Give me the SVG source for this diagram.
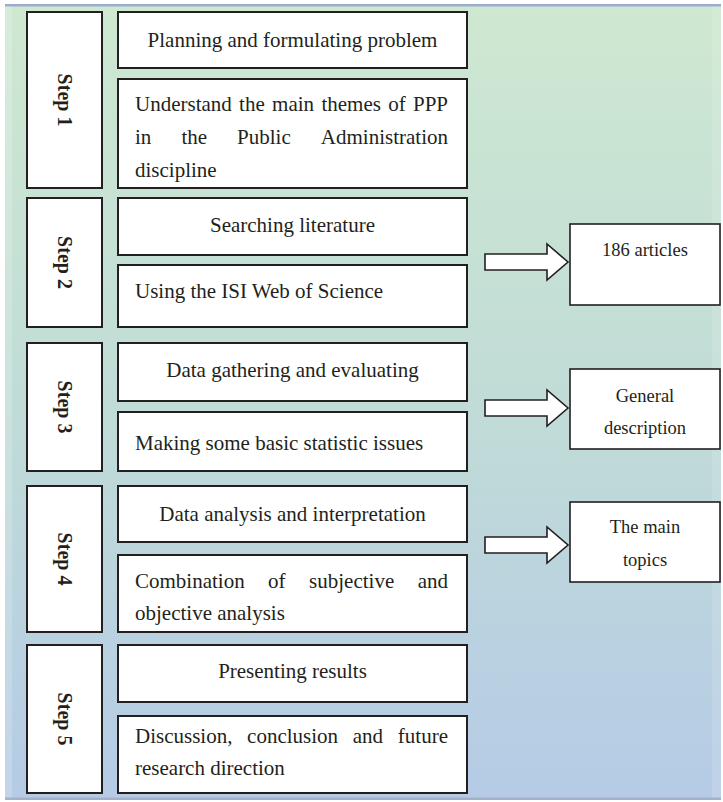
<svg xmlns="http://www.w3.org/2000/svg" width="723" height="802" viewBox="0 0 723 802">
  <defs>
    <linearGradient id="bg" x1="0" y1="0" x2="0" y2="1">
      <stop offset="0" stop-color="#cee8d1"/>
      <stop offset="0.5" stop-color="#c1dcd7"/>
      <stop offset="1" stop-color="#b5cbe6"/>
    </linearGradient>
    <style>
      .box { fill: #ffffff; stroke: #231f20; stroke-width: 2; }
      .rbox { fill: #ffffff; stroke: #231f20; stroke-width: 1.6; }
      .arrow { fill: #ffffff; stroke: #231f20; stroke-width: 1.6; stroke-linejoin: miter; }
      .t { font-family: "Liberation Serif", "Times New Roman", serif; font-size: 21px; fill: #231f20; }
      .c { text-anchor: middle; }
      .e { text-anchor: end; }
      .r { font-family: "Liberation Serif", "Times New Roman", serif; font-size: 18.5px; fill: #231f20; text-anchor: middle; }
      .step { font-family: "Liberation Serif", "Times New Roman", serif; font-size: 20px; font-weight: bold; fill: #231f20; text-anchor: middle; }
    </style>
  </defs>

  <!-- page background and frame -->
  <rect x="0" y="0" width="723" height="802" fill="#ffffff"/>
  <rect x="5" y="4" width="716" height="796" fill="url(#bg)"/>
  <rect x="5" y="6" width="7" height="792" fill="#ffffff" opacity="0.18"/>
  <rect x="712" y="6" width="9" height="792" fill="#ffffff" opacity="0.12"/>
  <rect x="5" y="4" width="716" height="2.5" fill="#9cadcf"/>
  <rect x="5" y="797.5" width="716" height="2.5" fill="#a3b1c9"/>

  <!-- Step 1 -->
  <g id="step1">
    <rect class="box" x="27" y="12" width="75" height="176"/>
    <text class="step" transform="translate(64.5,100) rotate(90)" y="7">Step 1</text>
  </g>
  <g id="planning">
    <rect class="box" x="118" y="12" width="349" height="56"/>
    <text class="t c" x="292.5" y="47">Planning and formulating problem</text>
  </g>
  <g id="understand">
    <rect class="box" x="118" y="79" width="349" height="109"/>
    <text class="t" y="111"><tspan x="135">Understand</tspan><tspan x="239.1">the</tspan><tspan x="272.1">main</tspan><tspan x="321.4">themes</tspan><tspan x="388.2">of</tspan><tspan x="413">PPP</tspan></text>
    <text class="t" y="144"><tspan x="135">in</tspan><tspan x="181.4">the</tspan><tspan x="237.1">Public</tspan></text>
    <text class="t e" x="448" y="144">Administration</text>
    <text class="t" x="135" y="177">discipline</text>
  </g>

  <!-- Step 2 -->
  <g id="step2">
    <rect class="box" x="27" y="198" width="75" height="129"/>
    <text class="step" transform="translate(64.5,262.5) rotate(90)" y="7">Step 2</text>
  </g>
  <g id="searching">
    <rect class="box" x="118" y="198" width="349" height="57"/>
    <text class="t c" x="292.5" y="232">Searching literature</text>
  </g>
  <g id="isi">
    <rect class="box" x="118" y="265" width="349" height="62"/>
    <text class="t" x="135" y="298">Using the ISI Web of Science</text>
  </g>

  <!-- Step 3 -->
  <g id="step3">
    <rect class="box" x="27" y="343" width="75" height="128"/>
    <text class="step" transform="translate(64.5,407) rotate(90)" y="7">Step 3</text>
  </g>
  <g id="gathering">
    <rect class="box" x="118" y="343" width="349" height="58"/>
    <text class="t c" x="292.5" y="377">Data gathering and evaluating</text>
  </g>
  <g id="statistics">
    <rect class="box" x="118" y="412" width="349" height="59"/>
    <text class="t" x="135" y="450">Making some basic statistic issues</text>
  </g>

  <!-- Step 4 -->
  <g id="step4">
    <rect class="box" x="27" y="486" width="75" height="146"/>
    <text class="step" transform="translate(64.5,559) rotate(90)" y="7">Step 4</text>
  </g>
  <g id="analysis">
    <rect class="box" x="118" y="486" width="349" height="56"/>
    <text class="t c" x="292.5" y="521">Data analysis and interpretation</text>
  </g>
  <g id="combination">
    <rect class="box" x="118" y="555" width="349" height="77"/>
    <text class="t" y="588"><tspan x="135">Combination</tspan><tspan x="268.1">of</tspan><tspan x="309.1">subjective</tspan></text>
    <text class="t e" x="448" y="588">and</text>
    <text class="t" x="135" y="620">objective analysis</text>
  </g>

  <!-- Step 5 -->
  <g id="step5">
    <rect class="box" x="27" y="645" width="75" height="148"/>
    <text class="step" transform="translate(64.5,719) rotate(90)" y="7">Step 5</text>
  </g>
  <g id="presenting">
    <rect class="box" x="118" y="645" width="349" height="57"/>
    <text class="t c" x="292.5" y="678">Presenting results</text>
  </g>
  <g id="discussion">
    <rect class="box" x="118" y="716" width="349" height="77"/>
    <text class="t" y="743"><tspan x="135">Discussion,</tspan><tspan x="247.1">conclusion</tspan><tspan x="352.8">and</tspan></text>
    <text class="t e" x="448" y="743">future</text>
    <text class="t" x="135" y="775">research direction</text>
  </g>

  <!-- outcome boxes -->
  <g id="articles">
    <rect class="rbox" x="570" y="224" width="150" height="81"/>
    <text class="r" x="645" y="256">186 articles</text>
  </g>
  <g id="description">
    <rect class="rbox" x="570" y="369" width="150" height="80"/>
    <text class="r" x="645" y="402">General</text>
    <text class="r" x="645" y="434">description</text>
  </g>
  <g id="topics">
    <rect class="rbox" x="570" y="502" width="150" height="80"/>
    <text class="r" x="645" y="533">The main</text>
    <text class="r" x="645" y="566">topics</text>
  </g>

  <!-- block arrows -->
  <g id="connectors">
    <path class="arrow" d="M485,254 H547 V244 L568,262 L547,280 V270 H485 Z"/>
    <path class="arrow" d="M485,400 H547 V390 L568,408 L547,426 V416 H485 Z"/>
    <path class="arrow" d="M485,537 H547 V527 L568,545 L547,563 V553 H485 Z"/>
  </g>
</svg>
